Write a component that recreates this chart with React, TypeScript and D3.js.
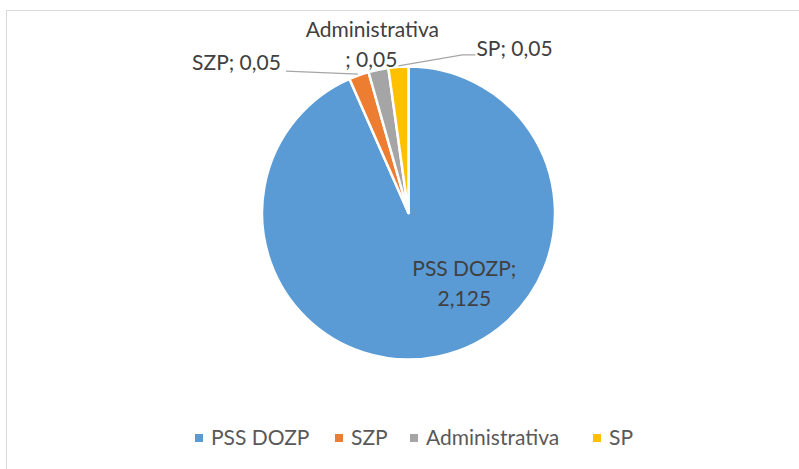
import React, { useEffect, useRef } from "react";
import * as d3 from "d3";

const categories = ["PSS DOZP", "SZP", "Administrativa", "SP"];
const values = [2.125, 0.05, 0.05, 0.05];
const valueLabels = ["2,125", "0,05", "0,05", "0,05"];
const colors = ["#5B9BD5", "#ED7D31", "#A5A5A5", "#FFC000"];

const W = 799;
const H = 469;
const FONT = "Lato, 'Open Sans', sans-serif";

const App = () => {
  const ref = useRef(null);

  useEffect(() => {
    const svg = d3.select(ref.current);
    svg.selectAll("*").remove();

    // chart border (only top and left edges are visible in the frame)
    svg
      .append("rect")
      .attr("x", 6.5)
      .attr("y", 10.5)
      .attr("width", W + 20)
      .attr("height", H + 20)
      .attr("fill", "none")
      .attr("stroke", "#D9D9D9")
      .attr("stroke-width", 1);

    const cx = 408.5;
    const cy = 213;
    const r = 146.5;

    const data = categories.map((c, i) => ({ name: c, value: values[i], label: valueLabels[i], color: colors[i] }));
    const pie = d3.pie().value((d) => d.value).sort(null).startAngle(0).endAngle(2 * Math.PI);
    const arcs = pie(data);
    const arc = d3.arc().innerRadius(0).outerRadius(r);

    const g = svg.append("g").attr("transform", `translate(${cx},${cy})`);
    g.selectAll("path")
      .data(arcs)
      .enter()
      .append("path")
      .attr("d", arc)
      .attr("fill", (d) => d.data.color)
      .attr("stroke", "#fff")
      .attr("stroke-width", 2.5)
      .attr("stroke-linejoin", "round");

    const edgePoint = (d) => {
      const a = (d.startAngle + d.endAngle) / 2;
      return [r * Math.sin(a), -r * Math.cos(a)];
    };

    const text = (x, y, s, anchor = "start") =>
      g
        .append("text")
        .attr("x", x)
        .attr("y", y)
        .attr("text-anchor", anchor)
        .attr("fill", "#404040")
        .style("font-family", FONT)
        .style("font-size", "21px")
        .text(s);

    // PSS DOZP inside label
    const big = arcs[0];
    const c0 = d3.arc().innerRadius(0).outerRadius(r * 1.25).centroid(big);
    text(c0[0] + 37, c0[1] - 27, `${big.data.name};`, "middle");
    text(c0[0] + 37, c0[1] + 3, big.data.label, "middle");

    const line = d3.line();
    const leader = (pts) =>
      g
        .append("path")
        .attr("d", line(pts))
        .attr("fill", "none")
        .attr("stroke", "#A6A6A6")
        .attr("stroke-width", 1.3);

    // SZP
    const p1 = edgePoint(arcs[1]);
    leader([[p1[0] - 1, p1[1] - 1], [p1[0] - 73, p1[1] - 4]]);
    text(p1[0] - 78, p1[1] - 5, `${arcs[1].data.name}; ${arcs[1].data.label}`, "end");

    // Administrativa
    const p2 = edgePoint(arcs[2]);
    text(p2[0] - 6, p2[1] - 33, arcs[2].data.name, "middle");
    text(p2[0] + 19, p2[1] - 3, `; ${arcs[2].data.label}`, "end");

    // SP
    const p3 = edgePoint(arcs[3]);
    leader([[p3[0], p3[1] - 1], [p3[0] + 64, p3[1] - 12], [p3[0] + 77, p3[1] - 12]]);
    text(p3[0] + 78, p3[1] - 11, `${arcs[3].data.name}; ${arcs[3].data.label}`, "start");

    // legend
    const legendY = 438;
    const legendX = [195, 335, 410, 593];
    const lg = svg.append("g");
    data.forEach((d, i) => {
      lg.append("rect")
        .attr("x", legendX[i])
        .attr("y", legendY - 4)
        .attr("width", 8)
        .attr("height", 8)
        .attr("fill", d.color);
      lg.append("text")
        .attr("x", legendX[i] + 16)
        .attr("y", legendY + 6.5)
        .attr("fill", "#595959")
        .style("font-family", FONT)
        .style("font-size", "21px")
        .text(d.name);
    });
  }, []);

  return (
    <svg ref={ref} width={W} height={H} style={{ position: "absolute", left: 0, top: 0, background: "#fff" }}></svg>
  );
};

export default App;
